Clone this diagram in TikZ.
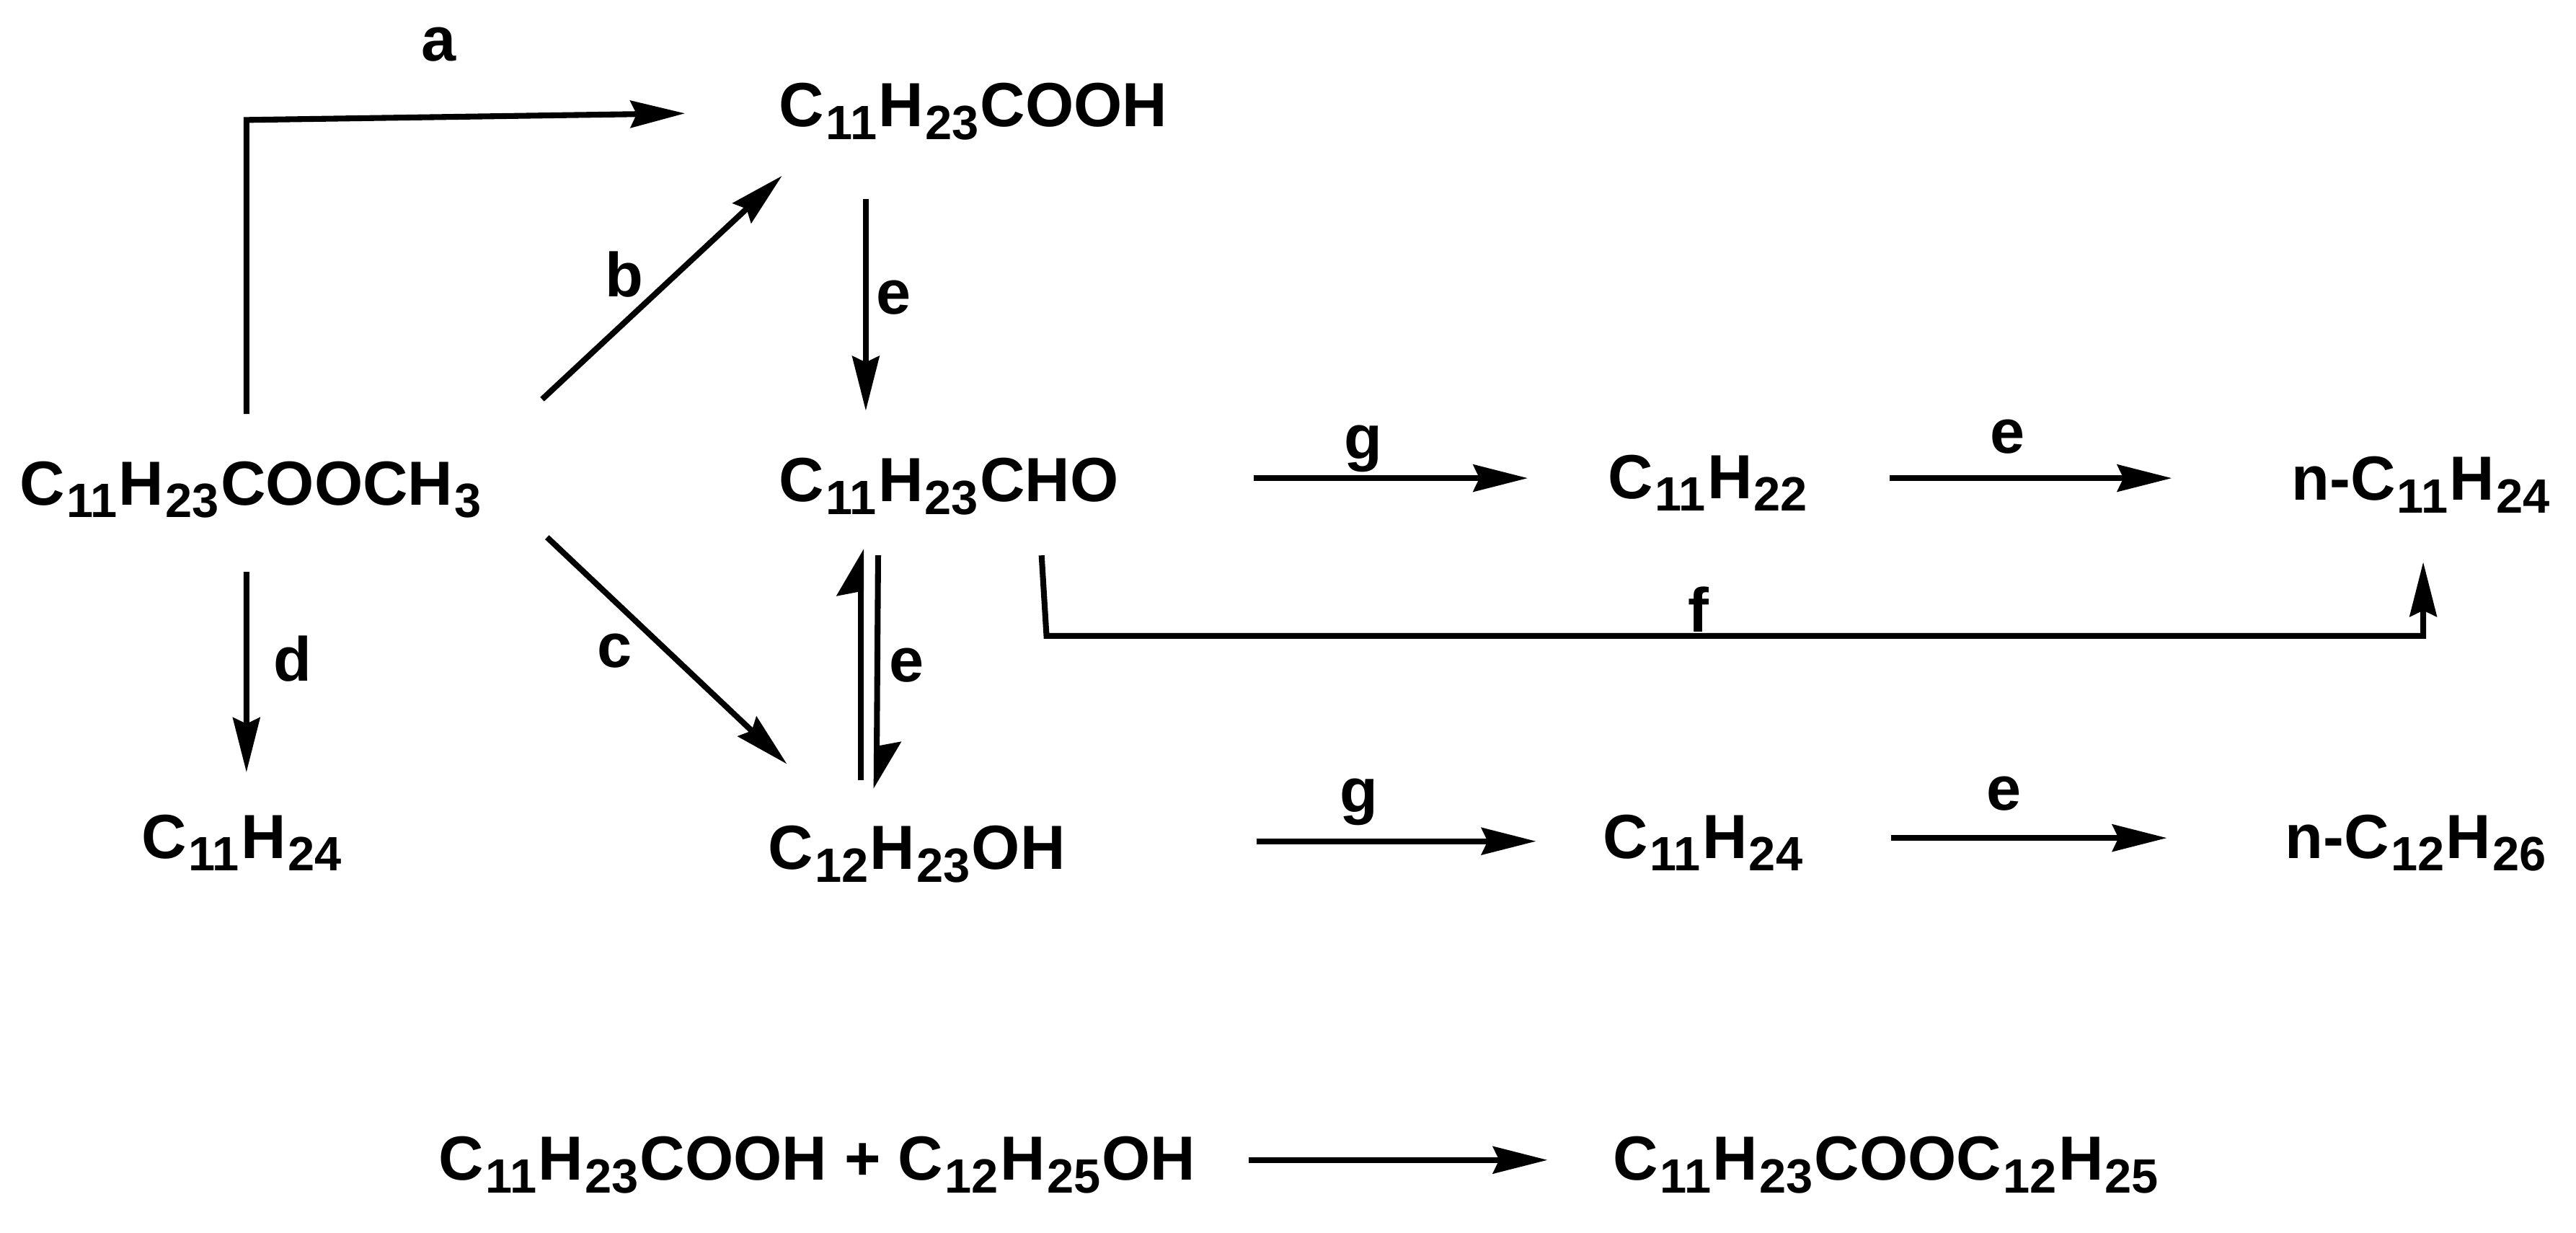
\documentclass[tikz,border=0pt]{standalone}
\usepackage{fontspec}
\setmainfont{Liberation Sans}
\usetikzlibrary{calc}
\usetikzlibrary{arrows.meta}
\newcommand{\sbn}[1]{\kern0.65pt\raisebox{-5pt}{\fontsize{19}{20}\selectfont #1}\kern0.65pt}

\begin{document}
\begin{tikzpicture}[x=0.022787cm, y=-0.022787cm, line width=2.3pt,
>={Stealth[length=21.5pt, width=10.6pt, inset=2.4pt]},
	compound/.style={inner sep=0pt, font=\fontsize{24.6}{30}\selectfont\bfseries},
	halfhead/.style={-{Stealth[harpoon, length=16.5pt, width=19pt, inset=1.7pt]}}]

  \useasboundingbox (0,0) rectangle (1568,750);

  \node[compound] (ester) at (153,298) {C\sbn{11}H\sbn{23}COOCH\sbn{3}};
  \node[compound] (acid) at (592.5,68) {C\sbn{11}H\sbn{23}COOH};
  \node[compound] (ald) at (577.5,296) {C\sbn{11}H\sbn{23}CHO};
  \node[compound] (alc) at (558,520) {C\sbn{12}H\sbn{23}OH};
  \node[compound] (alkane) at (147.5,513) {C\sbn{11}H\sbn{24}};
  \node[compound] (alkene) at (1040,294) {C\sbn{11}H\sbn{22}};
  \node[compound] (nalkane) at (1474,295) {n-C\sbn{11}H\sbn{24}};
  \node[compound] (alkane2) at (1037,513) {C\sbn{11}H\sbn{24}};
  \node[compound] (nalkane2) at (1471,513) {n-C\sbn{12}H\sbn{26}};
  \node[compound] (mix) at (497.5,709) {C\sbn{11}H\sbn{23}COOH + C\sbn{12}H\sbn{25}OH};
  \node[compound] (wax) at (1148.5,709) {C\sbn{11}H\sbn{23}COOC\sbn{12}H\sbn{25}};

  \coordinate (a1) at (150,73);
  \coordinate (f1) at (637,387);
  \coordinate (f2) at (1475,387);

  \draw[->] ($(ester)+(-3,-46)$) -- (a1) -- ($(acid)+(-175.5,1)$);
  \draw[->] ($(ester)+(177,-55)$) -- ($(acid)+(-116.5,39)$);
  \draw[->] ($(ester)+(180,29)$) -- ($(alc)+(-79,-55)$);
  \draw[->] ($(ester)+(-3,50)$) -- ($(alkane)+(2.5,-43)$);
  \draw[->] ($(acid)+(-65.5,53)$) -- ($(ald)+(-50.5,-46)$);
  \draw[halfhead] ($(alc)+(-34,-45)$) -- ($(ald)+(-53.5,38)$);
  \draw[halfhead] ($(ald)+(-43,42)$) -- ($(alc)+(-24.5,-40)$);
  \draw[->] ($(ald)+(56.5,42)$) -- (f1) -- (f2) -- ($(nalkane)+(1,47)$);
  \draw[->] ($(ald)+(185.5,-5)$) -- ($(alkene)+(-110,-3)$);
  \draw[->] ($(alkene)+(110,-3)$) -- ($(nalkane)+(-152,-4)$);
  \draw[->] ($(alc)+(207,-8)$) -- ($(alkane2)+(-102,-1)$);
  \draw[->] ($(alkane2)+(114,-3)$) -- ($(nalkane2)+(-152,-3)$);
  \draw[->] ($(mix)+(262.5,-3)$) -- ($(wax)+(-206.5,-3)$);

  \node[compound] (la) at (267,27) {a};
  \node[compound] (lb) at (380,167) {b};
  \node[compound] (lc) at (374,396) {c};
  \node[compound] (ld) at (178,401) {d};
  \node[compound] (le1) at (544,181) {e};
  \node[compound] (le2) at (552,405) {e};
  \node[compound] (le3) at (1222,266) {e};
  \node[compound] (le4) at (1220,483) {e};
  \node[compound] (lf) at (1034,371) {f};
  \node[compound] (lg1) at (830,273) {g};
  \node[compound] (lg2) at (827,488) {g};
\end{tikzpicture}
\end{document}
